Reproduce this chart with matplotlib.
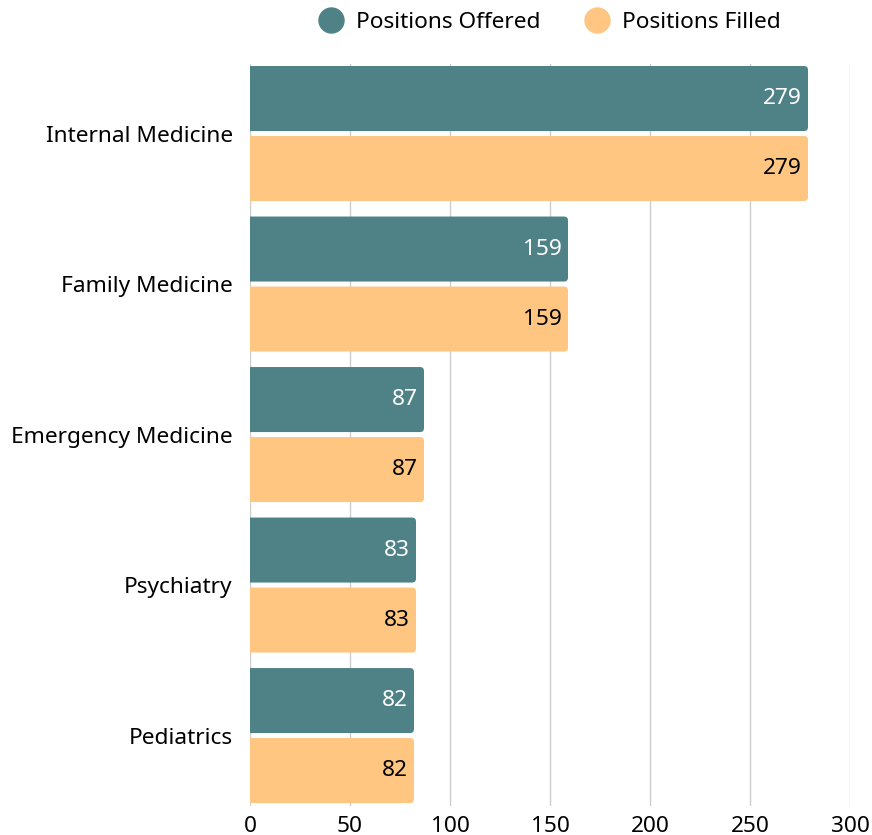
import matplotlib.pyplot as plt
from matplotlib.patches import FancyBboxPatch
from matplotlib.lines import Line2D

categories = ["Internal Medicine", "Family Medicine", "Emergency Medicine", "Psychiatry", "Pediatrics"]
offered = [279, 159, 87, 83, 82]
filled = [279, 159, 87, 83, 82]
xticks = [0, 50, 100, 150, 200, 250, 300]

teal = "#4f8286"
orange = "#ffc682"

plt.rcParams["font.family"] = ["Noto Sans", "DejaVu Sans"]
fs = 16.3

fig = plt.figure(figsize=(8.72, 8.35), dpi=100)
ax = fig.add_axes([250 / 872, 1 - 806 / 835, 600 / 872, 742 / 835])

bar_h = 0.432
off = 0.2326
# px per unit: x -> 2, y -> 150.5
aspect = 2 / 150.5


def rbar(x, y, color):
    # left side starts below zero so only the right corners look rounded
    p = FancyBboxPatch((-4, y - bar_h / 2), x + 4, bar_h,
                       boxstyle="round,pad=0,rounding_size=2",
                       mutation_aspect=aspect, fc=color, ec="none",
                       zorder=3, clip_on=True)
    ax.add_patch(p)


for i, cat in enumerate(categories):
    rbar(offered[i], i - off, teal)
    rbar(filled[i], i + off, orange)
    ax.text(offered[i] - 3, i - off, str(offered[i]), ha="right", va="center",
            color="white", fontsize=fs, zorder=4)
    ax.text(filled[i] - 3, i + off, str(filled[i]), ha="right", va="center",
            color="black", fontsize=fs, zorder=4)

ax.set_xlim(0, 300)
ax.set_ylim(4.468, -0.462)
ax.set_yticks(range(len(categories)))
ax.set_yticklabels(categories, fontsize=fs)
ax.set_xticks(xticks)
ax.set_xticklabels([str(t) for t in xticks], fontsize=fs)
ax.tick_params(axis="y", length=0, pad=12.5)
ax.tick_params(axis="x", length=0, pad=7)
ax.grid(axis="x", color="#cccccc", linewidth=1, zorder=0)
for s in ax.spines.values():
    s.set_visible(False)

handles = [Line2D([], [], marker="o", ls="none", markersize=18, color=teal),
           Line2D([], [], marker="o", ls="none", markersize=18, color=orange)]
fig.legend(handles, ["Positions Offered", "Positions Filled"], loc="center",
           bbox_to_anchor=(545 / 872, 1 - 22 / 835), ncol=2, frameon=False,
           fontsize=fs, handletextpad=0.1, columnspacing=1.5)

fig.savefig("out.png", dpi=100)
